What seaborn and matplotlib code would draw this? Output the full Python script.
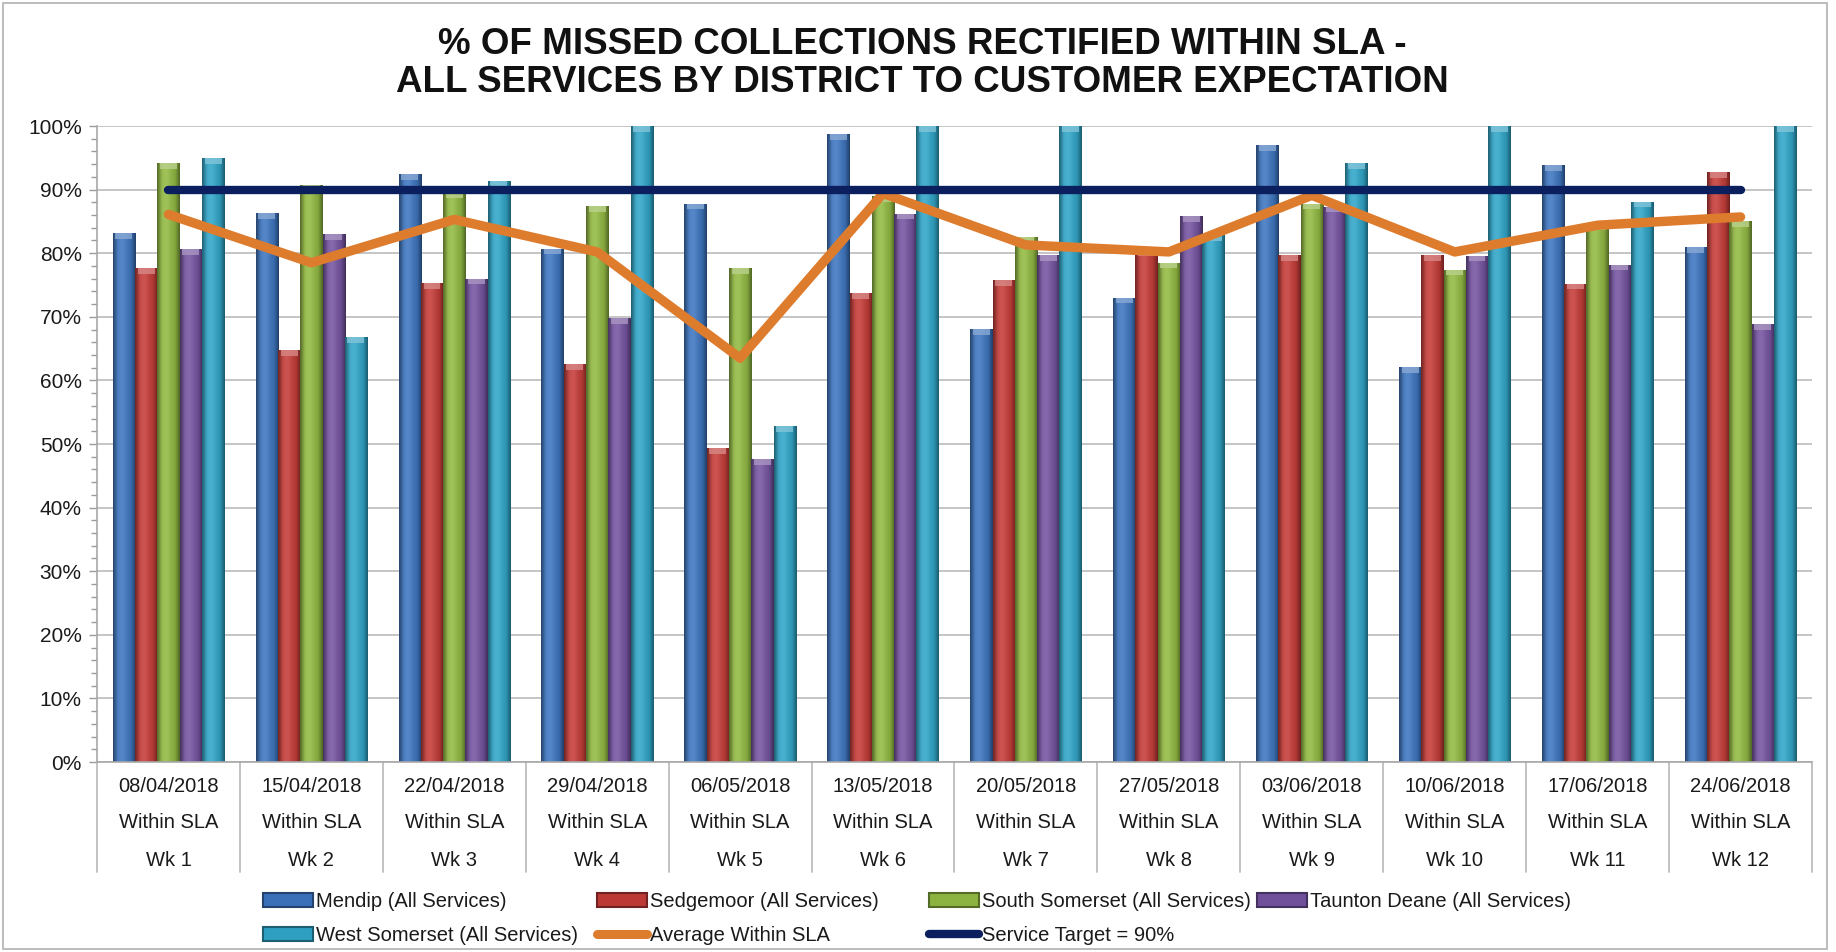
import numpy as np
import pandas as pd
import matplotlib
matplotlib.use("Agg")
import matplotlib.pyplot as plt
import matplotlib.transforms as mtransforms
from matplotlib.patches import Patch, Rectangle
from matplotlib.lines import Line2D
from matplotlib.colors import to_rgb
import seaborn as sns

# ---------------- data ----------------
dates = ["08/04/2018", "15/04/2018", "22/04/2018", "29/04/2018", "06/05/2018", "13/05/2018",
         "20/05/2018", "27/05/2018", "03/06/2018", "10/06/2018", "17/06/2018", "24/06/2018"]
sla_labels = ["Within SLA"] * 12
weeks = ["Wk 1", "Wk 2", "Wk 3", "Wk 4", "Wk 5", "Wk 6",
         "Wk 7", "Wk 8", "Wk 9", "Wk 10", "Wk 11", "Wk 12"]

districts = ["Mendip (All Services)", "Sedgemoor (All Services)", "South Somerset (All Services)",
             "Taunton Deane (All Services)", "West Somerset (All Services)"]
mendip = [83.1, 86.3, 92.4, 80.7, 87.8, 98.7, 68.1, 73.0, 97.0, 62.1, 93.8, 81.0]
sedgemoor = [77.7, 64.8, 75.3, 62.6, 49.3, 73.7, 75.8, 80.5, 79.7, 79.7, 75.2, 92.7]
south_somerset = [94.2, 90.7, 89.6, 87.4, 77.7, 89.0, 82.5, 78.5, 87.8, 77.4, 84.5, 85.0]
taunton_deane = [80.6, 83.0, 76.0, 69.8, 47.6, 86.2, 79.7, 85.8, 87.3, 79.6, 78.2, 68.8]
west_somerset = [94.9, 66.8, 91.4, 100.0, 52.8, 100.0, 100.0, 82.8, 94.2, 100.0, 88.1, 100.0]
average_within_sla = [86.1, 78.5, 85.3, 80.2, 63.5, 89.4, 81.3, 80.2, 89.1, 80.2, 84.4, 85.7]
service_target = [90] * 12

avg_label = "Average Within SLA"
target_label = "Service Target = 90%"

colors = ["#3A70B8", "#BC3935", "#8CB23F", "#70509A", "#2E9FC0"]
avg_color = "#DE7C2E"
target_color = "#0B1F5E"

series = [mendip, sedgemoor, south_somerset, taunton_deane, west_somerset]
df = pd.DataFrame({
    "date": np.tile(dates, len(districts)),
    "district": np.repeat(districts, len(dates)),
    "value": np.concatenate(series),
})

# ---------------- figure ----------------
sns.set_theme(style="white")
plt.rcParams["font.family"] = ["Liberation Sans", "DejaVu Sans"]

W, H = 1836, 952
fig = plt.figure(figsize=(W / 100, H / 100), dpi=100)
ax = fig.add_axes([97 / W, 1 - 762 / H, (1812 - 97) / W, (762 - 126) / H])

sns.barplot(data=df, x="date", y="value", hue="district", order=dates, hue_order=districts,
            palette=colors, width=0.78, saturation=1, errorbar=None, legend=False,
            linewidth=0, ax=ax)

# cylinder-like shading on every bar
t = np.linspace(0, 1, 80)
k = np.exp(-((t - 0.38) / 0.28) ** 2)
dark = 0.62 + 0.38 * np.clip(np.sin(np.pi * t) * 1.6, 0, 1)
bars = [p for p in ax.patches if isinstance(p, Rectangle) and p.get_height() > 0]
for p in bars:
    base = np.array(to_rgb(p.get_facecolor()))
    rgb = base[None, :] * dark[:, None] * (0.92 + 0.12 * k[:, None]) + (1 - base[None, :]) * 0.12 * k[:, None]
    rgb = np.clip(rgb, 0, 1)
    x0, w, y0, h = p.get_x(), p.get_width(), p.get_y(), p.get_height()
    im = ax.imshow(rgb[None, :, :], extent=[x0, x0 + w, y0, y0 + h], aspect="auto",
                   interpolation="bilinear", zorder=p.get_zorder() + 0.01)
    im.set_clip_path(p)
    # lighter top cap
    ax.add_patch(Rectangle((x0 + w * 0.12, y0 + h - 0.9), w * 0.76, 0.9,
                           facecolor=np.clip(base * 0.6 + 0.4, 0, 1), edgecolor="none",
                           zorder=p.get_zorder() + 0.02, alpha=0.8))

xpos = np.arange(len(dates))
ax.plot(xpos, service_target, color=target_color, lw=6.0, solid_capstyle="round", zorder=6)
ax.plot(xpos, average_within_sla, color=avg_color, lw=6.8, solid_capstyle="round",
        solid_joinstyle="round", zorder=5)

ax.set_xlim(-0.5, len(dates) - 0.5)
ax.set_ylim(0, 100)
ax.set_yticks(np.arange(0, 101, 10))
ax.set_yticklabels([f"{v}%" for v in range(0, 101, 10)], fontsize=15, color="#1a1a1a")
ax.set_yticks(np.arange(0, 101, 2), minor=True)
ax.tick_params(axis="y", which="major", length=6, width=1, color="#9A9A9A", pad=5, left=True)
ax.tick_params(axis="y", which="minor", length=4, width=1, color="#9A9A9A", left=True)
ax.tick_params(axis="x", length=0, labelbottom=False)
ax.set_xlabel("")
ax.set_ylabel("")
ax.grid(axis="y", which="major", color="#C0C0C0", lw=1.3)
ax.set_axisbelow(True)
for s in ["top", "right"]:
    ax.spines[s].set_visible(False)
for s in ["left", "bottom"]:
    ax.spines[s].set_color("#A8A8A8")
    ax.spines[s].set_linewidth(1.2)

# category table below axis
trans = mtransforms.blended_transform_factory(ax.transData, ax.transAxes)
axh = 762 - 126
for kx in np.arange(-0.5, len(dates), 1.0):
    ax.plot([kx, kx], [0, -(872 - 762) / axh], transform=trans, color="#BDBDBD", lw=1.3,
            clip_on=False)
rows = [(dates, 786), (sla_labels, 823), (weeks, 860)]
for labels, ypx in rows:
    for i, lab in enumerate(labels):
        ax.text(i, -(ypx - 762) / axh, lab, transform=trans, ha="center", va="center",
                fontsize=14.5, color="#1a1a1a")

# title
fig.text(922 / W, 1 - 44 / H, "% OF MISSED COLLECTIONS RECTIFIED WITHIN SLA -",
         ha="center", va="center", fontsize=26.5, fontweight="bold", color="#111111")
fig.text(922 / W, 1 - 82 / H, "ALL SERVICES BY DISTRICT TO CUSTOMER EXPECTATION",
         ha="center", va="center", fontsize=26.5, fontweight="bold", color="#111111")

# legend (four fixed columns, like the original)
def bar_handle(c):
    base = np.array(to_rgb(c))
    return Patch(facecolor=c, edgecolor=np.clip(base * 0.6, 0, 1), linewidth=1.5)

h_bars = [bar_handle(c) for c in colors]
h_avg = Line2D([], [], color=avg_color, lw=6.5, solid_capstyle="round")
h_tgt = Line2D([], [], color=target_color, lw=6.0, solid_capstyle="round")
columns = [
    (263, [h_bars[0], h_bars[4]], [districts[0], districts[4]]),
    (597, [h_bars[1], h_avg], [districts[1], avg_label]),
    (929, [h_bars[2], h_tgt], [districts[2], target_label]),
    (1257, [h_bars[3]], [districts[3]]),
]
for xpx, hs, ls in columns:
    fig.legend(hs, ls, loc="upper left", bbox_to_anchor=(xpx / W, 1 - 892 / H),
               frameon=False, borderpad=0, borderaxespad=0, fontsize=14.5,
               handlelength=2.5, handleheight=0.7, handletextpad=0.15, labelspacing=0.75,
               labelcolor="#1a1a1a")

# outer chart border
fig.add_artist(Rectangle((3 / W, 3 / H), 1 - 12 / W, 1 - 6 / H, transform=fig.transFigure,
                         facecolor="none", edgecolor="#B0B0B0", lw=1.2))

fig.savefig("out.png", dpi=100)
